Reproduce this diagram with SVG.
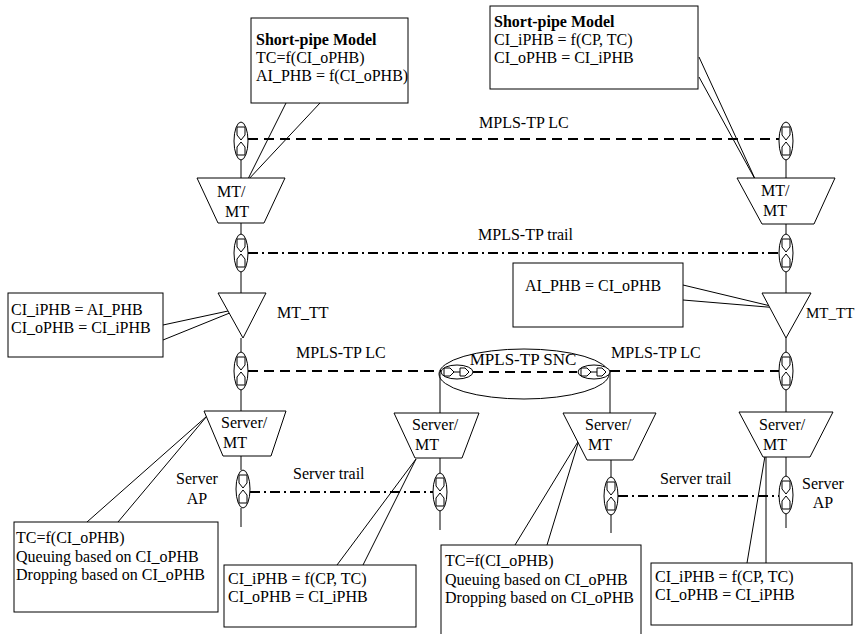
<svg xmlns="http://www.w3.org/2000/svg" width="856" height="634" viewBox="0 0 856 634">
<defs>
<style>
.s{fill:none;stroke:#000;stroke-width:1}
.w{fill:#fff;stroke:#000;stroke-width:1}
.t{font-family:"Liberation Serif","Times New Roman",serif;font-size:16px;fill:#000}
.b{font-weight:bold}
.lc{fill:none;stroke:#000;stroke-width:2;stroke-dasharray:10,6}
.tr{fill:none;stroke:#000;stroke-width:2;stroke-dasharray:10,4,2,4}
</style>
<g id="cpv">
<ellipse cx="0" cy="0" rx="7" ry="19" class="w"/>
<path d="M-4,-14 H4 V-6 L0,-1 L-4,-6 Z M0,1 L4,6 V14 H-4 V6 Z" class="s"/>
</g>
<g id="cph">
<ellipse cx="0" cy="0" rx="16" ry="7" class="w"/>
<path d="M-13,-4 H-7 L-3,0 L-7,4 H-13 Z M-3,0 H3 M3,-4 H8 L12,0 L8,4 H3 Z" class="s"/>
</g>
</defs>
<rect width="856" height="634" fill="#fff"/>

<g id="connectors">
<line x1="248" y1="139" x2="779" y2="139" class="lc"/>
<line x1="248" y1="253" x2="779" y2="253" class="tr"/>
<line x1="248" y1="371" x2="441" y2="371" class="lc"/>
<line x1="473" y1="372" x2="577" y2="372" class="lc"/>
<line x1="610" y1="371" x2="779" y2="371" class="lc"/>
<line x1="250" y1="492" x2="433" y2="492" class="tr"/>
<line x1="618" y1="496" x2="779" y2="496" class="tr"/>
<path d="M241,160 V178 M241,223 V234 M241,272 V293 M241,338 V352 M241,390 V411 M241,456 V470 M241,508 V527" class="s"/>
<path d="M786,160 V178 M786,224 V234 M786,272 V293 M786,338 V352 M786,390 V412 M786,457 V476 M786,514 V528" class="s"/>
<path d="M440,372 V413 M440,458 V473 M440,511 V530" class="s"/>
<path d="M610,372 V413 M611,460 V477 M611,515 V533" class="s"/>
<path d="M286,103 L247,181 M320,103 L247,181" class="s"/>
<path d="M699,57 L756,181 M699,77 L756,181" class="s"/>
<path d="M163,325 L242,308 M163,340 L242,308" class="s"/>
<path d="M683,285 L779,308 M683,300 L779,308" class="s"/>
<path d="M87,522 L207,416 M118,522 L207,416" class="s"/>
<path d="M337,565 L416,459 M363,565 L416,459" class="s"/>
<path d="M515,545 L579,440 M547,545 L579,440" class="s"/>
<path d="M747,563 L765,456 M766,456 V563" class="s"/>
</g>

<g id="labels">
<text x="479" y="128" class="t">MPLS-TP LC</text>
<text x="478" y="240" class="t">MPLS-TP trail</text>
<text x="296" y="358" class="t">MPLS-TP LC</text>
<text x="611" y="358" class="t">MPLS-TP LC</text>
<text x="293" y="479" class="t">Server trail</text>
<text x="660" y="484" class="t">Server trail</text>
<text x="197" y="484" class="t" text-anchor="middle">Server</text>
<text x="197" y="504" class="t" text-anchor="middle">AP</text>
<text x="823" y="489" class="t" text-anchor="middle">Server</text>
<text x="823" y="508" class="t" text-anchor="middle">AP</text>
</g>

<g id="note-tl">
<rect x="251" y="18" width="157" height="85" class="w"/>
<text x="256" y="45" class="t b">Short-pipe Model</text>
<text x="256" y="63" class="t">TC=f(CI_oPHB)</text>
<text x="256" y="81" class="t">AI_PHB = f(CI_oPHB)</text>
</g>
<g id="note-tr">
<rect x="490" y="6" width="208" height="83" class="w"/>
<text x="494" y="27" class="t b">Short-pipe Model</text>
<text x="494" y="45" class="t">CI_iPHB = f(CP, TC)</text>
<text x="494" y="63" class="t">CI_oPHB = CI_iPHB</text>
</g>
<g id="note-ml">
<rect x="8" y="293" width="155" height="64" class="w"/>
<text x="11" y="315" class="t">CI_iPHB = AI_PHB</text>
<text x="11" y="333" class="t">CI_oPHB = CI_iPHB</text>
</g>
<g id="note-mr">
<rect x="513" y="263" width="170" height="64" class="w"/>
<text x="525" y="291" class="t">AI_PHB = CI_oPHB</text>
</g>
<g id="note-b1">
<rect x="14" y="522" width="204" height="90" class="w"/>
<text x="16" y="543" class="t">TC=f(CI_oPHB)</text>
<text x="16" y="562" class="t">Queuing based on CI_oPHB</text>
<text x="16" y="580" class="t">Dropping based on CI_oPHB</text>
</g>
<g id="note-b2">
<rect x="224" y="565" width="192" height="62" class="w"/>
<text x="228" y="584" class="t">CI_iPHB = f(CP, TC)</text>
<text x="228" y="602" class="t">CI_oPHB = CI_iPHB</text>
</g>
<g id="note-b3">
<rect x="441" y="545" width="200" height="100" class="w"/>
<text x="445" y="566" class="t">TC=f(CI_oPHB)</text>
<text x="445" y="585" class="t">Queuing based on CI_oPHB</text>
<text x="445" y="603" class="t">Dropping based on CI_oPHB</text>
</g>
<g id="note-b4">
<rect x="651" y="563" width="201" height="62" class="w"/>
<text x="655" y="582" class="t">CI_iPHB = f(CP, TC)</text>
<text x="655" y="600" class="t">CI_oPHB = CI_iPHB</text>
</g>

<g id="cp-l1"><use href="#cpv" x="241" y="141"/></g>
<g id="cp-l2"><use href="#cpv" x="241" y="253"/></g>
<g id="cp-l3"><use href="#cpv" x="241" y="371"/></g>
<g id="cp-l4"><use href="#cpv" x="243" y="489"/></g>
<g id="cp-r1"><use href="#cpv" x="786" y="141"/></g>
<g id="cp-r2"><use href="#cpv" x="786" y="253"/></g>
<g id="cp-r3"><use href="#cpv" x="786" y="371"/></g>
<g id="cp-r4"><use href="#cpv" x="786" y="495"/></g>
<g id="cp-s1"><use href="#cpv" x="440" y="492"/></g>
<g id="cp-s2"><use href="#cpv" x="611" y="496"/></g>

<g id="snc">
<ellipse cx="524" cy="374" rx="85" ry="25" class="s"/>
<text x="523" y="365" class="t" text-anchor="middle" style="font-size:17px">MPLS-TP SNC</text>
<use href="#cph" x="457" y="372"/>
<use href="#cph" x="594" y="372"/>
</g>

<g id="mtmt-l">
<path d="M197,178 H285 L264,223 H218 Z" class="w"/>
<text x="217" y="197" class="t">MT/</text>
<text x="225" y="217" class="t">MT</text>
</g>
<g id="mtmt-r">
<path d="M737,178 H835 L814,224 H762 Z" class="w"/>
<text x="761" y="196" class="t">MT/</text>
<text x="763" y="216" class="t">MT</text>
</g>
<g id="mttt-l">
<path d="M218,293 H266 L243,338 Z" class="w"/>
<text x="277" y="318" class="t">MT_TT</text>
</g>
<g id="mttt-r">
<path d="M762,293 H811 L786,338 Z" class="w"/>
<text x="806" y="318" class="t" style="font-size:15px">MT_TT</text>
</g>
<g id="srv-1">
<path d="M204,411 H286 L271,456 H223 Z" class="w"/>
<text x="221" y="428" class="t">Server/</text>
<text x="223" y="448" class="t">MT</text>
</g>
<g id="srv-2">
<path d="M394,413 H479 L462,458 H415 Z" class="w"/>
<text x="412" y="430" class="t">Server/</text>
<text x="415" y="450" class="t">MT</text>
</g>
<g id="srv-3">
<path d="M563,413 H656 L633,460 H587 Z" class="w"/>
<text x="585" y="430" class="t">Server/</text>
<text x="588" y="450" class="t">MT</text>
</g>
<g id="srv-4">
<path d="M739,412 H833 L810,457 H763 Z" class="w"/>
<text x="759" y="430" class="t">Server/</text>
<text x="763" y="450" class="t">MT</text>
</g>
</svg>
